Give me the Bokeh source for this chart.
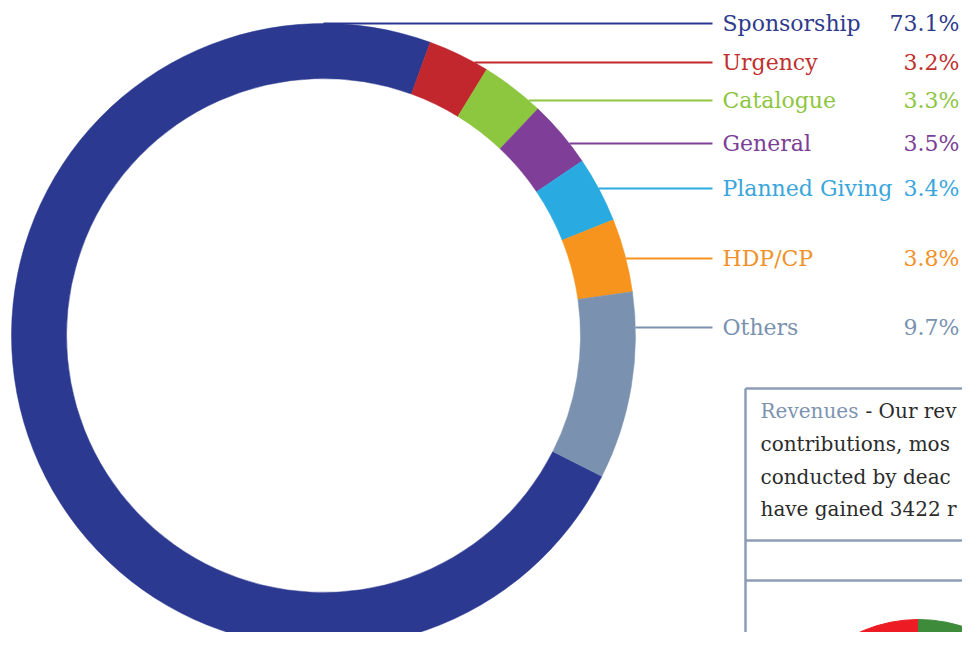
import numpy as np
from bokeh.plotting import figure
from bokeh.models import Range1d, ColumnDataSource
from bokeh.embed import file_html
from bokeh.resources import INLINE
from bokeh.core.properties import value

# ---------------- data ----------------
categories = ["Sponsorship", "Urgency", "Catalogue", "General",
              "Planned Giving", "HDP/CP", "Others"]
shares = [73.1, 3.2, 3.3, 3.5, 3.4, 3.8, 9.7]
pct_labels = ["73.1%", "3.2%", "3.3%", "3.5%", "3.4%", "3.8%", "9.7%"]

# small (partially visible) donut at the bottom right
small_values = [50, 50]

# visible parts of the text panel (cut off at the right edge in the reference)
head_word = "Revenues"
head_rest = "- Our rev"
body_lines = ["contributions, mos",
              "conducted by deac",
              "have gained 3422 r"]

# ---------------- styles / layout ----------------
colors = ["#2B3990", "#C1272D", "#8DC63F", "#7F3F98", "#29ABE2", "#F7941D", "#7A92B0"]
text_colors = ["#2E3A8C", "#C0302E", "#8DC63F", "#7B3F96", "#3AA6DC", "#F0922A", "#7A92B0"]
small_colors = ["#ED1C24", "#3F8B3C"]
label_y_ref = [23, 62, 100, 143, 188, 258, 327]   # label rows (px from top)

FIG_W, FIG_H = 962, 632
H_REF = 648


def Y(y):
    return H_REF - y


CX, CY = 323, 335
R_OUT, R_IN = 312, 257
START_DEG = 70  # where Urgency begins (clockwise order after Sponsorship)
FONT = value("DejaVu Serif")

p = figure(width=FIG_W, height=FIG_H,
           x_range=Range1d(0, FIG_W), y_range=Range1d(Y(FIG_H), Y(0)),
           output_backend="svg", toolbar_location=None,
           x_axis_location=None, y_axis_location=None, min_border=0)
p.grid.visible = False
p.outline_line_color = None
p.background_fill_color = "white"
p.border_fill_color = "white"

# ---- main donut ----
starts, ends = [], []
ang = START_DEG + shares[0] * 3.6
for s in shares:
    starts.append(np.deg2rad(ang))
    ang -= s * 3.6
    ends.append(np.deg2rad(ang))

src = ColumnDataSource(dict(x=[CX] * len(shares), y=[Y(CY)] * len(shares),
                            start=starts, end=ends, color=colors,
                            cat=categories, share=shares))
p.annular_wedge(x="x", y="y", inner_radius=R_IN, outer_radius=R_OUT,
                start_angle="start", end_angle="end", direction="clock",
                fill_color="color", line_color="color", line_width=0.5, source=src)

# ---- leader lines ----
LINE_END = 712
x0s = []
for ly in label_y_ref:
    dy = ly - CY
    x0s.append(CX + np.sqrt(max(R_OUT ** 2 - dy ** 2, 0)))
lsrc = ColumnDataSource(dict(x0=x0s, x1=[LINE_END] * len(x0s),
                             y=[Y(v) for v in label_y_ref], color=colors))
p.segment(x0="x0", y0="y", x1="x1", y1="y", line_color="color", line_width=2, source=lsrc)

# ---- labels ----
tsrc = ColumnDataSource(dict(x=[722] * len(categories), xr=[959] * len(categories),
                             y=[Y(v) for v in label_y_ref], cat=categories,
                             pct=pct_labels, color=text_colors))
p.text(x="x", y="y", text="cat", text_color="color", source=tsrc,
       text_font=FONT, text_font_size="22px",
       text_baseline="middle", text_align="left")
p.text(x="xr", y="y", text="pct", text_color="color", source=tsrc,
       text_font=FONT, text_font_size="22px",
       text_baseline="middle", text_align="right")

# ---- text box ----
BOX_L, BOX_T = 745, 388
box_col = "#8C9CB6"
p.segment(x0=[BOX_L, BOX_L, BOX_L, BOX_L], y0=[Y(BOX_T), Y(BOX_T), Y(540), Y(580)],
          x1=[BOX_L, 990, 990, 990], y1=[Y(660), Y(BOX_T), Y(540), Y(580)],
          line_color=box_col, line_width=2.5)

p.text(x=[760], y=[Y(410)], text=[head_word], text_color="#7D93B2",
       text_font=FONT, text_font_size="20px",
       text_baseline="middle", text_align="left")
p.text(x=[865], y=[Y(410)], text=[head_rest], text_color="#2B2B2B",
       text_font=FONT, text_font_size="20px",
       text_baseline="middle", text_align="left")
p.text(x=[760] * 3, y=[Y(443), Y(476), Y(508)], text=body_lines, text_color="#2B2B2B",
       text_font=FONT, text_font_size="20px",
       text_baseline="middle", text_align="left")

# ---- small donut ----
SCX, SCY = 918, 762
s_starts, s_ends = [], []
ang = 90.0
for v in small_values:
    s_starts.append(np.deg2rad(ang))
    ang += v / sum(small_values) * 360
    s_ends.append(np.deg2rad(ang))
ssrc = ColumnDataSource(dict(x=[SCX] * 2, y=[Y(SCY)] * 2, start=s_starts,
                             end=s_ends, color=small_colors))
p.annular_wedge(x="x", y="y", inner_radius=100, outer_radius=143,
                start_angle="start", end_angle="end", direction="anticlock",
                fill_color="color", line_color="color", source=ssrc)

open("out.html", "w").write(file_html(p, INLINE))
